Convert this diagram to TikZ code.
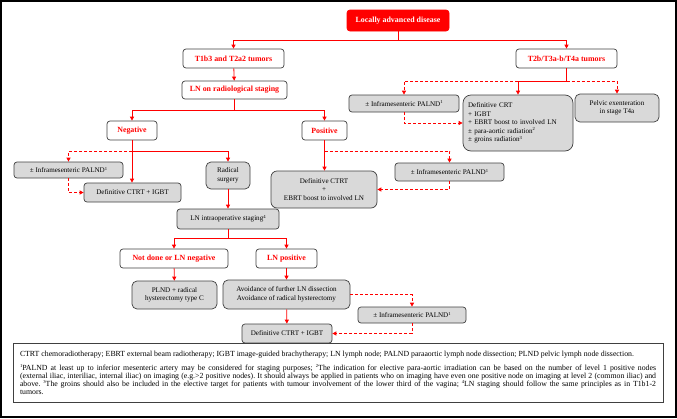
\documentclass[tikz,border=0pt]{standalone}
\usepackage{fontspec}
\setmainfont{Liberation Serif}
\usepackage{xcolor}
\definecolor{fcred}{RGB}{255,0,0}
\definecolor{fcgray}{RGB}{217,217,217}
\definecolor{fcline}{RGB}{64,64,64}
\usetikzlibrary{arrows.meta,positioning,calc}
\newcommand{\fnmark}[1]{\raisebox{2.3pt}{\fontsize{4.6}{5}\selectfont #1}}

\begin{document}
\begin{tikzpicture}[x=1pt,y=-1pt,
  box/.style={draw=fcline,line width=0.7pt,rounded corners=3pt,fill=fcgray,inner sep=1pt,align=center,font=\fontsize{7.1}{8.5}\selectfont},
  redbox/.style={box,fill=white,text=fcred,font=\fontsize{7.9}{9}\selectfont\bfseries},
  edge/.style={-{Triangle[length=4pt,width=4pt]},fcred,line width=0.8pt},
  dedge/.style={edge,dash pattern=on 3pt off 2pt}]
  \useasboundingbox (0,0) rectangle (677,418);
  \draw[line width=1.5pt] (1,1) rectangle (676,417);
  % Top
  \node[redbox,fill=fcred,draw=fcred,text=white,minimum width=102pt,minimum height=21pt] (lad) at (398,20.5) {Locally advanced disease};
  \node[redbox,minimum width=101pt,minimum height=19pt] (t1) at (233.5,58.5) {T1b3 and T2a2 tumors};
  \node[redbox,minimum width=101pt,minimum height=19pt] (t2) at (566.5,58.5) {T2b/T3a-b/T4a tumors};
  \draw[edge] (lad.south) -- ++(0,9) -| (t1.north);
  \draw[edge] (lad.south) -- ++(0,9) -| (t2.north);
  % T2b/T3a-b/T4a branch
  \node[box,minimum width=110pt,minimum height=17pt] (palA) at (404,103.5) {± Inframesenteric PALND\fnmark{1}};
  \node[box,rounded corners=8pt,align=left,minimum width=110pt,minimum height=56pt,text width=100pt] (crt) at (518,123) {Definitive CRT\\+ IGBT\\+ EBRT boost to involved LN\\± para-aortic radiation\fnmark{2}\\± groins radiation\fnmark{3}};
  \node[box,rounded corners=5pt,minimum width=84pt,minimum height=28pt] (pelv) at (617,108) {Pelvic exenteration\\in stage T4a};
  \path (t2.south) ++(0,13) coordinate (j2);
  \draw[edge] (t2.south) -- (j2) -| (crt.north);
  \draw[dedge] (j2 -| crt.north) -| (palA.north);
  \draw[dedge] (j2) -| (pelv.north);
  \draw[dedge] (palA.south) |- (crt.west);
  % T1b3 and T2a2 branch
  \node[redbox,minimum width=105pt,minimum height=18pt] (lnr) at (234.5,90) {LN on radiological staging};
  \draw[edge] (t1) -- (lnr);
  \node[redbox,minimum width=50pt,minimum height=19pt] (neg) at (132,130.5) {Negative};
  \node[redbox,minimum width=45pt,minimum height=19pt] (pos) at (324.5,130.5) {Positive};
  \draw[edge] (lnr.south) -- ++(0,11) -| (neg.north);
  \draw[edge] (lnr.south) -- ++(0,11) -| (pos.north);
  % Negative
  \node[box,minimum width=109pt,minimum height=16pt] (palB) at (68.5,170) {± Inframesenteric PALND\fnmark{1}};
  \node[box,minimum width=97pt,minimum height=19pt] (ctrtA) at (132.5,192.5) {Definitive CTRT + IGBT};
  \node[box,rounded corners=5pt,minimum width=44pt,minimum height=27pt] (rad) at (228,175.5) {Radical\\surgery};
  \path (neg.south) ++(0,11) coordinate (j3);
  \draw[edge] (neg.south) -- (neg.south |- ctrtA.north);
  \draw[edge] (j3) -| (rad.north);
  \draw[dedge] (j3) -| (palB.north);
  \draw[dedge] (palB.south) |- (ctrtA.west);
  % Positive
  \node[box,rounded corners=6pt,minimum width=106pt,minimum height=37pt] (ctrtB) at (324,189.5) {Definitive CTRT\\+\\EBRT boost to involved LN};
  \node[box,minimum width=109pt,minimum height=18pt] (palC) at (449.5,172) {± Inframesenteric PALND\fnmark{1}};
  \path (pos.south) ++(0,11) coordinate (j4);
  \draw[edge] (pos.south) -- (pos.south |- ctrtB.north);
  \draw[dedge] (j4) -| (palC.north);
  \draw[dedge] (palC.south) |- (ctrtB.east);
  % Surgery
  \node[box,minimum width=102pt,minimum height=20pt] (lnio) at (228,219) {LN intraoperative staging\fnmark{4}};
  \draw[edge] (rad) -- (lnio);
  \node[redbox,minimum width=108pt,minimum height=19pt] (notd) at (174,258.5) {Not done or LN negative};
  \node[redbox,minimum width=61pt,minimum height=19pt] (lnp) at (286.5,258.5) {LN positive};
  \draw[edge] (lnio.south) -- ++(0,9) -| (notd.north);
  \draw[edge] (lnio.south) -- ++(0,9) -| (lnp.north);
  \node[box,rounded corners=5pt,minimum width=85pt,minimum height=28pt] (plnd) at (174.5,295) {PLND + radical\\hysterectomy type C};
  \node[box,rounded corners=5pt,minimum width=127pt,minimum height=29pt] (avoid) at (286.5,294.5) {Avoidance of further LN dissection\\Avoidance of radical hysterectomy};
  \node[box,minimum width=90pt,minimum height=19pt] (ctrtC) at (287,333.5) {Definitive CTRT + IGBT};
  \node[box,minimum width=108pt,minimum height=16pt] (palD) at (412,315) {± Inframesenteric PALND\fnmark{1}};
  \draw[edge] (notd) -- (plnd);
  \draw[edge] (lnp) -- (avoid);
  \draw[edge] (avoid) -- (ctrtC);
  \draw[dedge] (avoid.east) -| (palD.north);
  \draw[dedge] (palD.south) |- (ctrtC.east);
  % Legend
  \node[draw=fcline,line width=0.6pt,minimum width=650pt,minimum height=59pt,text width=636pt,align=justify,inner sep=0pt,font=\fontsize{7.8}{8}\selectfont\frenchspacing] (legend) at (338,372.5) {CTRT chemoradiotherapy; EBRT external beam radiotherapy; IGBT image-guided brachytherapy; LN lymph node; PALND paraaortic lymph node dissection; PLND pelvic lymph node dissection.\\[6pt]
  \fnmark{1}PALND at least up to inferior mesenteric artery may be considered for staging purposes; \fnmark{2}The indication for elective para-aortic irradiation can be based on the number of level 1 positive nodes\linebreak
  (external iliac, interiliac, internal iliac) on imaging (e.g.>2 positive nodes). It should always be applied in patients who on imaging have even one positive node on imaging at level 2 (common iliac) and\linebreak
  above. \fnmark{3}The groins should also be included in the elective target for patients with tumour involvement of the lower third of the vagina; \fnmark{4}LN staging should follow the same principles as in T1b1-2\linebreak
  tumors.};
\end{tikzpicture}
\end{document}
